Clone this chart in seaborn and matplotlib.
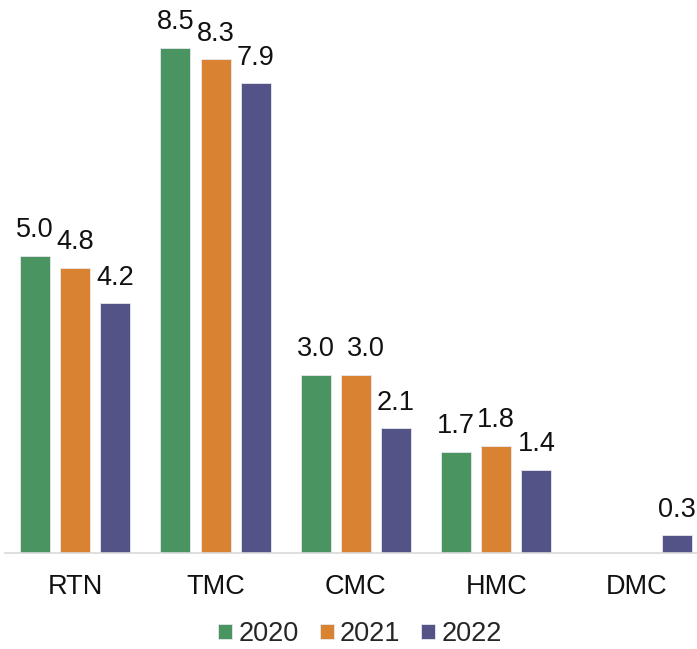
import matplotlib
matplotlib.use("Agg")
import matplotlib.pyplot as plt
import seaborn as sns
import pandas as pd
import numpy as np

categories = ["RTN", "TMC", "CMC", "HMC", "DMC"]
years = ["2020", "2021", "2022"]
v2020 = [5.0, 8.5, 3.0, 1.7, np.nan]
v2021 = [4.8, 8.3, 3.0, 1.8, np.nan]
v2022 = [4.2, 7.9, 2.1, 1.4, 0.3]
colors = ["#4a9462", "#d98232", "#545387"]

rows = []
for y, vals in zip(years, [v2020, v2021, v2022]):
    for c, v in zip(categories, vals):
        rows.append({"cat": c, "year": y, "val": v})
df = pd.DataFrame(rows)

sns.set_theme(style="white")
plt.rcParams["font.family"] = ["Liberation Sans", "DejaVu Sans"]

fig = plt.figure(figsize=(6.97, 6.49), dpi=100)
ax = fig.add_axes([5/697, 1 - 553/649, 692/697, 553/649])
sns.barplot(data=df, x="cat", y="val", hue="year", order=categories,
            hue_order=years, palette=colors, width=0.857, gap=0.25,
            edgecolor="#e8e8ee", linewidth=0.6, saturation=1, ax=ax,
            legend=True, err_kws={"linewidth": 0})
label_sets = []
for cont in ax.containers:
    label_sets.append(ax.bar_label(cont, fmt="%.1f", padding=9, fontsize=19.5,
                                   color="#111111"))
# nudge the second CMC label right, as in the reference
for t in label_sets[1]:
    if t.get_text() == "3.0":
        t.xyann = (7, 9)
ax.set_ylim(0, 9.3)
ax.set_xlim(-0.5, 4.43)
ax.set_xlabel("")
ax.set_ylabel("")
ax.set_yticks([])
for s in ["top", "right", "left"]:
    ax.spines[s].set_visible(False)
ax.spines["bottom"].set_color("#d9d9d9")
ax.spines["bottom"].set_linewidth(1.2)
ax.tick_params(axis="x", labelsize=19.5, pad=15, length=0, colors="#111111")
h, l = ax.get_legend_handles_labels()
ax.legend_.remove()
fig.legend(h, l, loc="center", bbox_to_anchor=(0.5165, 1 - 634/649), ncol=3,
           frameon=False, fontsize=19.5, handlelength=0.52, handleheight=0.52,
           handletextpad=0.22, columnspacing=0.78, borderpad=0.1)
fig.savefig("out.png", dpi=100)
